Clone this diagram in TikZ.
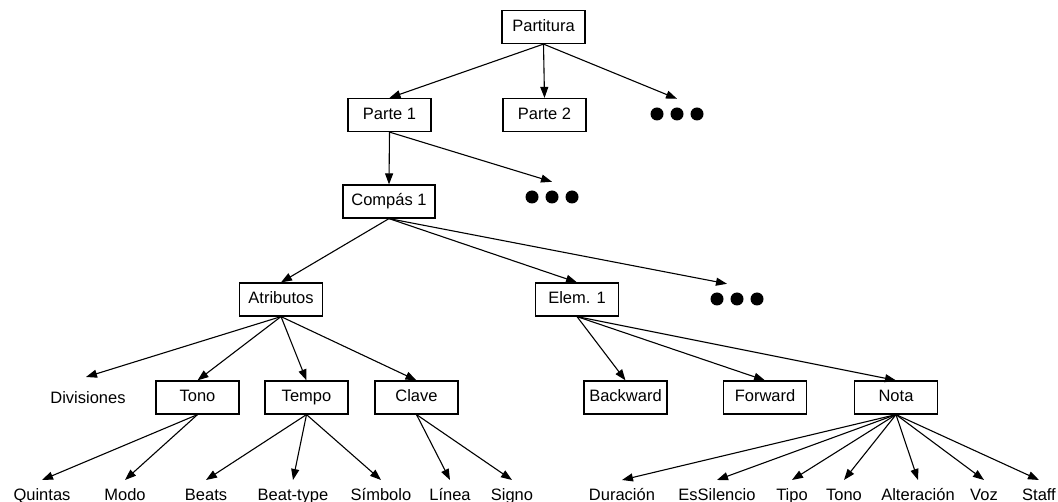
\documentclass[tikz,border=0pt]{standalone}
\usepackage{fontspec}
\setmainfont{Liberation Sans}
\usetikzlibrary{arrows.meta}

\begin{document}
\begin{tikzpicture}[
  x=1pt, y=-1pt,
  font=\fontsize{16.5pt}{20pt}\selectfont,
  box/.style={draw, line width=1.2pt, rectangle, minimum width=83pt,
    minimum height=33pt, inner xsep=2pt, inner ysep=0pt,
    text height=12pt, text depth=3.5pt},
  leaf/.style={inner xsep=0pt, inner ysep=8pt, text height=12pt, text depth=0pt},
  dotsrow/.style={minimum width=56pt, minimum height=30pt, inner sep=0pt,
    path picture={\foreach \dx in {-20,0,20}
      \fill ([xshift=\dx pt]path picture bounding box.center) circle (6.5pt);}},
  link/.style={line width=1.1pt, -{Triangle[length=11pt,width=8pt]}}
]
\useasboundingbox (0,0) rectangle (1058,502);

% upper levels
\node[box] (part) at (543.5,27) {Partitura};
\node[box] (p1) at (389.5,115) {Parte 1};
\node[box] (p2) at (544.5,115) {Parte 2};
\node[dotsrow] (d1) at (677,114) {};
\node[box, minimum width=92pt] (c1) at (389,201.5) {Compás 1};
\node[dotsrow] (d2) at (552,197) {};
\node[box] (atr) at (281,299.5) {Atributos};
\node[box] (el) at (577,299.5) {Elem. 1};
\node[dotsrow] (d3) at (737,299) {};

% attribute level
\node[leaf, anchor=north] (div) at (88,383) {Divisiones};
\node[box] (tono) at (197.5,397.5) {Tono};
\node[box] (tempo) at (306.5,397.5) {Tempo};
\node[box] (clave) at (416.5,397.5) {Clave};

% element level
\node[box] (back) at (625.5,397.5) {Backward};
\node[box] (fwd) at (765,397.5) {Forward};
\node[box] (nota) at (896,397.5) {Nota};

% leaves
\node[leaf, anchor=north] (quin) at (42,480) {Quintas};
\node[leaf, anchor=north] (modo) at (125,480) {Modo};
\node[leaf, anchor=north] (beats) at (206,480) {Beats};
\node[leaf, anchor=north] (btype) at (293,480) {Beat-type};
\node[leaf, anchor=north] (simb) at (381,480) {Símbolo};
\node[leaf, anchor=north] (lin) at (450,480) {Línea};
\node[leaf, anchor=north] (sig) at (512,480) {Signo};
\node[leaf, anchor=north] (dur) at (622,480) {Duración};
\node[leaf, anchor=north] (sil) at (717,480) {EsSilencio};
\node[leaf, anchor=north] (tipo) at (792,480) {Tipo};
\node[leaf, anchor=north] (ntono) at (844,480) {Tono};
\node[leaf, anchor=north] (alt) at (918,480) {Alteración};
\node[leaf, anchor=north] (voz) at (984,480) {Voz};
\node[leaf, anchor=north] (staff) at (1039,480) {Staff};

% connectors
\draw[link] (part.south) -- (p1.north);
\draw[link] (part.south) -- (p2.north);
\draw[link] (part.south) -- (d1.north);
\draw[link] (p1.south) -- (c1.north);
\draw[link] (p1.south) -- (d2.north);
\draw[link] (c1.south) -- (atr.north);
\draw[link] (c1.south) -- (el.north);
\draw[link] (c1.south) -- ([xshift=-10pt]d3.north);

\draw[link] (atr.south) -- ([xshift=-2pt,yshift=6pt]div.north);
\draw[link] (atr.south) -- (tono.north);
\draw[link] (atr.south) -- (tempo.north);
\draw[link] (atr.south) -- (clave.north);

\draw[link] (el.south) -- (back.north);
\draw[link] (el.south) -- (fwd.north);
\draw[link] (el.south) -- (nota.north);

\draw[link] (tono.south) -- (quin.north);
\draw[link] (tono.south) -- (modo.north);
\draw[link] (tempo.south) -- (beats.north);
\draw[link] (tempo.south) -- (btype.north);
\draw[link] (tempo.south) -- (simb.north);
\draw[link] (clave.south) -- (lin.north);
\draw[link] (clave.south) -- (sig.north);

\foreach \leafname in {dur,sil,tipo,ntono,alt,voz,staff}
  \draw[link] (nota.south) -- (\leafname.north);
\end{tikzpicture}
\end{document}
